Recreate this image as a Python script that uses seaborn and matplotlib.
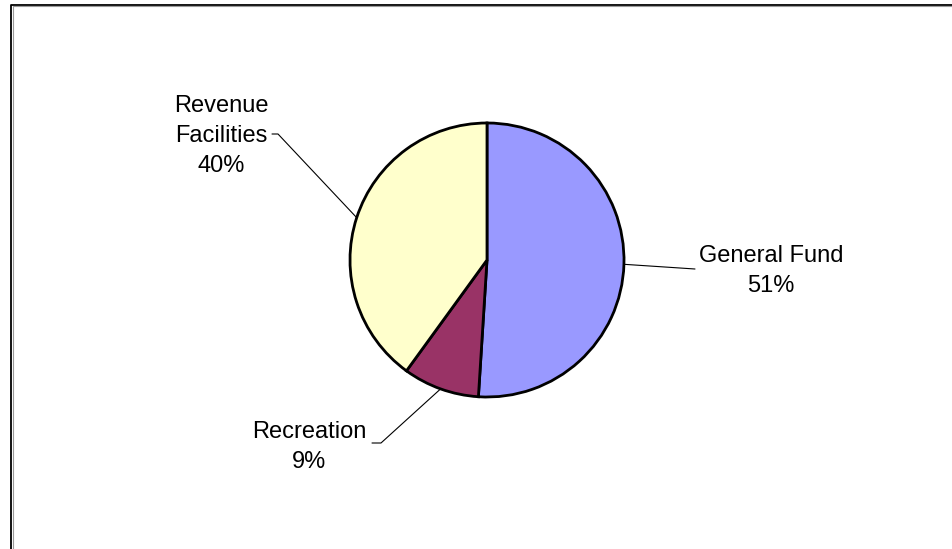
import numpy as np
import matplotlib
matplotlib.use("Agg")
import matplotlib.pyplot as plt
import seaborn as sns

# Fund shares (percent)
categories = ["General Fund", "Recreation", "Revenue Facilities"]
shares = [51, 9, 40]
label_lines = ["General Fund", "Recreation", "Revenue\nFacilities"]
slice_colors = ["#9999FF", "#993366", "#FFFFCC"]

sns.set_theme(style="white")
plt.rcParams["font.family"] = ["Liberation Sans", "DejaVu Sans"]

W, H = 953, 549
fig = plt.figure(figsize=(W / 100, H / 100), dpi=100)
fig.patch.set_facecolor("white")
ax = fig.add_axes([0, 0, 1, 1])

# Work in pixel-like coordinates with y increasing upward
cx, cy, r = 487, H - 260, 137
wedges, _ = ax.pie(
    shares,
    colors=slice_colors,
    startangle=90,
    counterclock=False,
    radius=r,
    center=(cx, cy),
    wedgeprops=dict(edgecolor="black", linewidth=2),
    frame=True,
)
ax.set_xlim(0, W)
ax.set_ylim(0, H)
ax.set_aspect("equal")
ax.axis("off")

# Outer chart border (runs past right and bottom edges)
ax.plot([11.5, 11.5, W + 5], [-5, H - 4.5, H - 4.5], color="black", lw=1.3,
        solid_capstyle="butt", clip_on=False)
ax.plot([12.8, 12.8], [-5, H - 5.8], color="#9a9a9a", lw=0.8, clip_on=False)
ax.plot([12.8, W + 5], [H - 5.8, H - 5.8], color="#9a9a9a", lw=0.8, clip_on=False)

# Leader line anchors on slice mid-angles, text placement and elbows
text_pos = {
    "General Fund": (771, 271),
    "Recreation": (309, 447),
    "Revenue Facilities": (221, 136),
}
elbows = {
    "General Fund": [(695, 269)],
    "Recreation": [(381, 443), (372, 443)],
    "Revenue Facilities": [(278, 134), (272, 134)],
}

total = sum(shares)
cum = 0
for name, lbl, val in zip(categories, label_lines, shares):
    mid = 90 - 360 * (cum + val / 2) / total
    cum += val
    ex = cx + r * np.cos(np.radians(mid))
    ey = cy + r * np.sin(np.radians(mid))
    pts = [(ex, ey)] + [(x, H - y) for x, y in elbows[name]]
    ax.plot([p[0] for p in pts], [p[1] for p in pts], color="black", lw=0.8)
    tx, ty = text_pos[name]
    ax.text(tx, H - ty, f"{lbl}\n{val}%", ha="center", va="center",
            fontsize=17, color="black", linespacing=1.48)

fig.savefig("out.png", dpi=100, facecolor="white")
